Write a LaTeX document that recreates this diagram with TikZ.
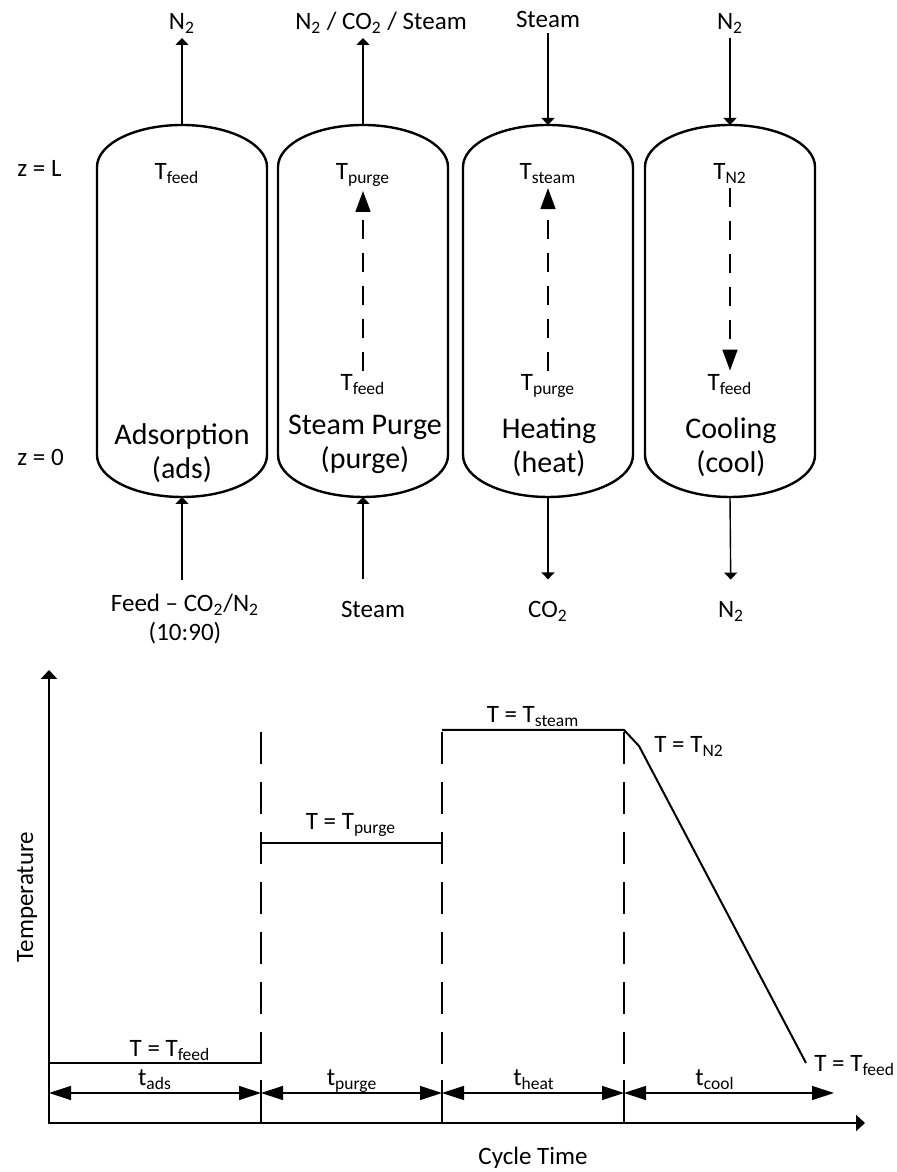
\documentclass[tikz,border=0pt]{standalone}
\usepackage{fontspec}
\setmainfont{Carlito}
\usetikzlibrary{arrows.meta,positioning}

\tikzset{
  vessel/.style={line width=1.2pt},
  flow/.style={line width=0.7pt,-{Triangle[length=3.5pt,width=6.5pt]}},
  tflow/.style={line width=0.8pt,dash pattern=on 9.5pt off 7pt,
    -{Triangle[length=10.5pt,width=7.5pt]}},
  lbl/.style={inner sep=2pt,font=\fontsize{12.5}{14.5}\selectfont},
  phase/.style={align=center,inner sep=1pt,font=\fontsize{15}{17}\selectfont},
  axis/.style={line width=1.4pt,{Triangle[length=4.5pt,width=8pt]}-{Triangle[length=4.5pt,width=8pt]}},
  divider/.style={line width=0.8pt,dash pattern=on 16pt off 9pt},
  span/.style={line width=0.6pt,{Triangle[length=11pt,width=7pt]}-{Triangle[length=11pt,width=7pt]}},
  profile/.style={line width=1pt},
}

\begin{document}
\begin{tikzpicture}[x=0.5pt,y=0.5pt]
  \useasboundingbox (0,0) rectangle (897,1172);
  % ---- the four columns ----
  \foreach \cx in {182,363,548,730}{
    \draw[vessel] (\cx-85,717) -- (\cx-85,1005)
      arc[start angle=180,end angle=0,x radius=85,y radius=42]
      -- (\cx+85,717)
      arc[start angle=0,end angle=-180,x radius=85,y radius=42] -- cycle;
  }
  \coordinate (ads top) at (182,1047);   \coordinate (ads bot) at (182,675);
  \coordinate (purge top) at (363,1047); \coordinate (purge bot) at (363,675);
  \coordinate (heat top) at (548,1047);  \coordinate (heat bot) at (548,675);
  \coordinate (cool top) at (730,1047);  \coordinate (cool bot) at (730,675);
  \node[lbl,anchor=base west] (zL) at (13,995) {z = L};
  \node[lbl,anchor=base west] (z0) at (13,706) {z = 0};
  % ---- streams in / out at the top ----
  \node[lbl,anchor=base] (ads out) at (182,1142) {N\textsubscript{2}};
  \node[lbl,anchor=base] (purge out) at (381,1142) {N\textsubscript{2} / CO\textsubscript{2} / Steam};
  \node[lbl,anchor=base] (heat in) at (548,1144) {Steam};
  \node[lbl,anchor=base] (cool in) at (730,1142) {N\textsubscript{2}};
  \draw[flow] (ads top) -- (ads out);
  \draw[flow] (purge top) -- (purge top |- purge out.south);
  \draw[flow] (heat in) -- (heat top);
  \draw[flow] (cool in) -- (cool top);
  % ---- streams in / out at the bottom ----
  \node[lbl,anchor=base,align=center] (feed) at (185,531)
    {Feed -- CO\textsubscript{2}/N\textsubscript{2}\\(10:90)};
  \node[lbl,anchor=base] (purge in) at (373,554) {Steam};
  \node[lbl,anchor=base] (heat out) at (548,554) {CO\textsubscript{2}};
  \node[lbl,anchor=base] (cool out) at (731,554) {N\textsubscript{2}};
  \draw[flow,shorten <=5pt] (ads bot |- feed.north) -- (ads bot);
  \draw[flow,shorten <=9pt] (purge bot |- purge in.north) -- (purge bot);
  \draw[flow,shorten >=9pt] (heat bot) -- (heat out);
  \draw[flow,shorten >=9pt] (cool bot) -- (cool out);
  % ---- bed temperatures ----
  \node[lbl,anchor=base] (ads hi) at (177,992) {T\textsubscript{feed}};
  \node[lbl,anchor=base] (purge hi) at (363,992) {T\textsubscript{purge}};
  \node[lbl,anchor=base] (purge lo) at (363,781) {T\textsubscript{feed}};
  \node[lbl,anchor=base] (heat hi) at (548,992) {T\textsubscript{steam}};
  \node[lbl,anchor=base] (heat lo) at (548,781) {T\textsubscript{purge}};
  \node[lbl,anchor=base] (cool hi) at (730,992) {T\textsubscript{N2}};
  \node[lbl,anchor=base] (cool lo) at (730,781) {T\textsubscript{feed}};
  \draw[tflow] (purge lo) -- (purge hi);
  \draw[tflow] (heat lo) -- (heat hi);
  \draw[tflow] (cool hi) -- (cool lo);
  % ---- step names ----
  \node[phase] (ads name) at (182,719) {Adsorption\\(ads)};
  \node[phase] (purge name) at (365,728) {Steam Purge\\(purge)};
  \node[phase] (heat name) at (549,725) {Heating\\(heat)};
  \node[phase] (cool name) at (731,725) {Cooling\\(cool)};
  % ---- temperature vs cycle time ----
  \coordinate (O) at (49,49);
  \coordinate (ytip) at (49,502);
  \coordinate (xtip) at (865,49);
  \draw[axis] (ytip) -- (O) -- (xtip);
  \node[lbl,rotate=90] (temp) at (27,275) {Temperature};
  \node[lbl,anchor=base] (ctime) at (533,8) {Cycle Time};
  \foreach \x in {261,442,624}{
    \draw[divider] (\x,440) -- (\x,92);
    \draw[line width=0.8pt] (\x,92) -- (\x,49);
  }
  \draw[span] (49,79) -- (261,79);
  \draw[span] (261,79) -- (442,79);
  \draw[span] (442,79) -- (624,79);
  \draw[span] (624,79) -- (834,79);
  \node[lbl,anchor=base] (tads) at (155,86) {t\textsubscript{ads}};
  \node[lbl,anchor=base] (tpurge) at (352,86) {t\textsubscript{purge}};
  \node[lbl,anchor=base] (theat) at (534,86) {t\textsubscript{heat}};
  \node[lbl,anchor=base] (tcool) at (715,86) {t\textsubscript{cool}};
  % profile
  \draw[profile] (49,109) -- (261,109);
  \draw[profile] (261,329) -- (442,329);
  \draw[profile] (442,442) -- (624,442) -- (639,426) -- (806,109);
  \node[lbl,anchor=base] (Tfeed a) at (170,115) {T = T\textsubscript{feed}};
  \node[lbl,anchor=base] (Tpurge) at (351,342) {T = T\textsubscript{purge}};
  \node[lbl,anchor=base] (Tsteam) at (533,449) {T = T\textsubscript{steam}};
  \node[lbl,anchor=base west] (TN2) at (650,419) {T = T\textsubscript{N2}};
  \node[lbl,anchor=base west] (Tfeed b) at (810,100) {T = T\textsubscript{feed}};
\end{tikzpicture}
\end{document}
